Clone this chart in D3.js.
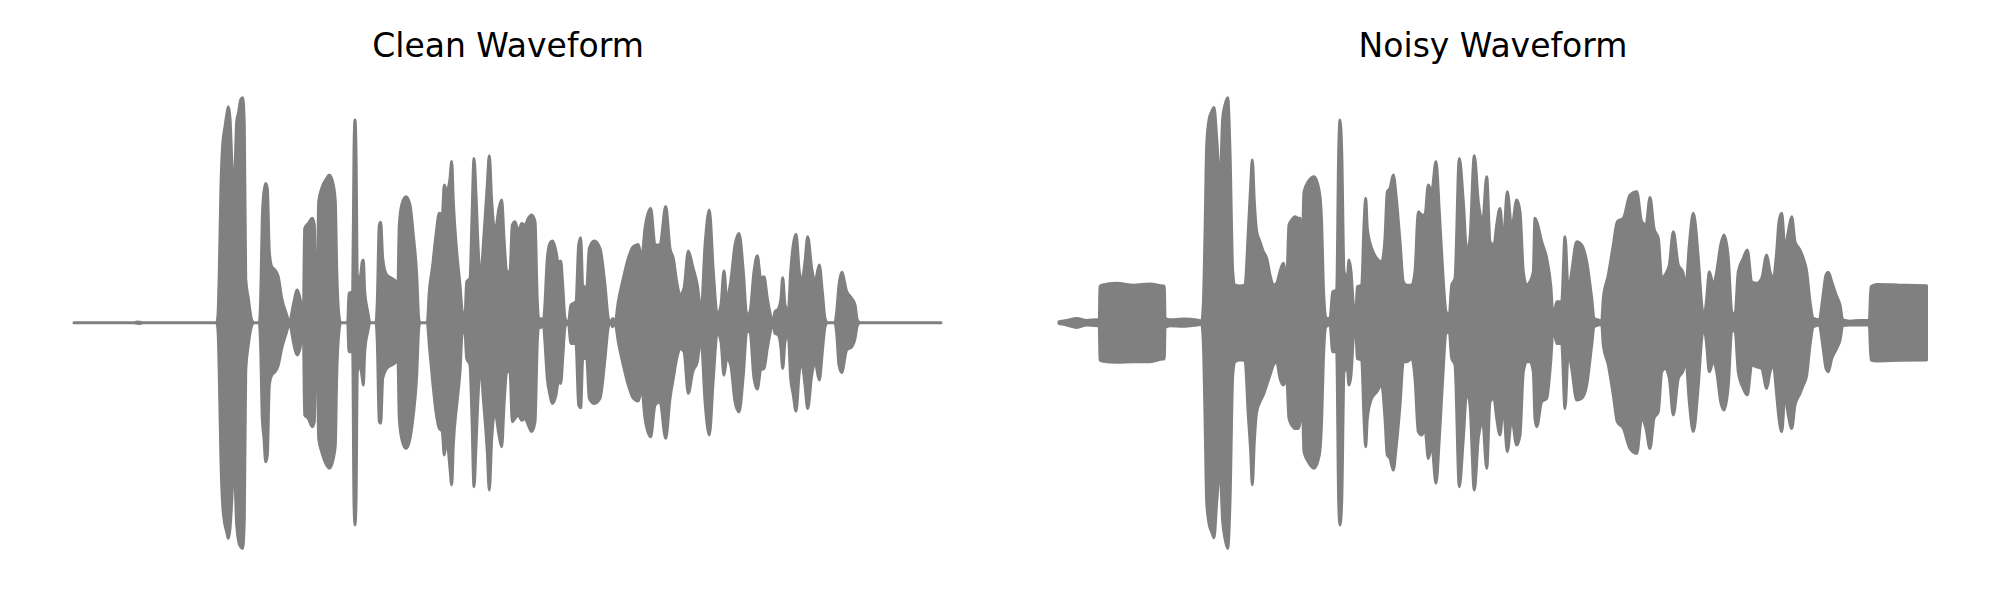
<!DOCTYPE html>
<html>
<head>
<meta charset="utf-8">
<script src="https://cdn.jsdelivr.net/npm/d3@7"></script>
<style>
  html, body { margin: 0; padding: 0; background: #ffffff; }
  svg { display: block; }
</style>
</head>
<body>
<svg id="chart" width="2000" height="600"></svg>
<script>
// ---- DATA ----
const titles = ["Clean Waveform", "Noisy Waveform"];
const timeDomain = [0, 8.68];          // seconds (approx.)
const ampDomain = [-1, 1];             // normalised amplitude

// Envelope of the clean waveform: [time, upper, lower]
const cleanEnvelope = [
[0.00,0,0],[0.60,0,0],[0.63,0.003,-0.002],[0.66,0.002,-0.003],[0.69,0,0],
[1.427,0,0],[1.44,0.034,-0.033],[1.453,0.227,-0.233],[1.47,0.612,-0.618],[1.487,0.790,-0.810],
[1.51,0.871,-0.899],[1.527,0.923,-0.929],[1.543,0.960,-0.959],[1.56,0.908,-0.914],[1.577,0.730,-0.796],
[1.60,0.567,-0.603],[1.627,0.893,-0.899],[1.647,0.938,-0.973],[1.667,0.990,-0.996],[1.687,1.000,-1.003],
[1.703,0.879,-0.870],[1.717,0.197,-0.218],[1.743,0.108,-0.099],[1.777,0.012,-0.013],[1.80,0,0],
[1.853,0,0],[1.867,0.108,-0.114],[1.883,0.464,-0.425],[1.90,0.582,-0.514],[1.917,0.619,-0.618],
[1.933,0.597,-0.588],[1.953,0.316,-0.277],[1.977,0.249,-0.233],[2.01,0.234,-0.218],[2.043,0.204,-0.188],
[2.077,0.108,-0.114],[2.127,0.034,-0.040],[2.153,0,0],[2.167,0.019,-0.018],[2.193,0.079,-0.084],
[2.233,0.145,-0.143],[2.26,0.108,-0.114],[2.293,0.019,-0.025],[2.307,0.419,-0.410],[2.343,0.441,-0.425],
[2.383,0.464,-0.462],[2.403,0.434,-0.440],[2.417,0.108,-0.114],[2.433,0.167,-0.159],[2.447,0.538,-0.514],
[2.477,0.597,-0.573],[2.527,0.641,-0.633],[2.553,0.656,-0.647],[2.593,0.612,-0.603],[2.613,0.538,-0.544],
[2.627,0.241,-0.233],[2.653,0.019,-0.025],[2.667,0,0],[2.737,0,0],[2.75,0.130,-0.129],
[2.787,0.138,-0.129],[2.80,0.760,-0.796],[2.81,0.901,-0.899],[2.82,0.760,-0.796],[2.833,0.212,-0.218],
[2.86,0.197,-0.188],[2.883,0.271,-0.247],[2.893,0.279,-0.277],[2.907,0.138,-0.129],[2.937,0.049,-0.040],
[2.96,0,0],[3.02,0,0],[3.033,0.093,-0.084],[3.053,0.434,-0.440],[3.067,0.446,-0.447],
[3.087,0.286,-0.247],[3.127,0.212,-0.203],[3.177,0.197,-0.188],[3.22,0.182,-0.173],[3.237,0.123,-0.114],
[3.253,0.434,-0.425],[3.277,0.523,-0.514],[3.32,0.560,-0.559],[3.36,0.523,-0.514],[3.393,0.390,-0.410],
[3.427,0.212,-0.233],[3.447,0.019,-0.025],[3.46,0,0],[3.533,0,0],[3.553,0.138,-0.099],
[3.587,0.256,-0.262],[3.62,0.390,-0.396],[3.653,0.486,-0.470],[3.683,0.479,-0.484],[3.703,0.612,-0.588],
[3.727,0.582,-0.514],[3.76,0.641,-0.647],[3.777,0.716,-0.721],[3.793,0.538,-0.544],[3.827,0.316,-0.366],
[3.86,0.167,-0.218],[3.883,0.049,-0.040],[3.91,0.027,-0.047],[3.927,0.182,-0.159],[3.96,0.197,-0.188],
[3.98,0.464,-0.425],[4.00,0.730,-0.729],[4.02,0.567,-0.544],[4.043,0.316,-0.307],[4.067,0.197,-0.188],
[4.093,0.345,-0.336],[4.133,0.612,-0.573],[4.153,0.742,-0.744],[4.177,0.538,-0.514],[4.21,0.404,-0.396],
[4.25,0.508,-0.499],[4.277,0.545,-0.551],[4.30,0.375,-0.366],[4.327,0.227,-0.218],[4.36,0.227,-0.218],
[4.383,0.434,-0.440],[4.41,0.449,-0.425],[4.443,0.404,-0.410],[4.477,0.441,-0.433],[4.51,0.434,-0.425],
[4.543,0.464,-0.455],[4.577,0.479,-0.484],[4.61,0.449,-0.440],[4.633,0.093,-0.084],[4.653,0,0],
[4.67,0.019,-0.022],[4.693,0,0],[4.707,0.064,-0.070],[4.733,0.286,-0.247],[4.76,0.353,-0.321],
[4.783,0.363,-0.359],[4.82,0.316,-0.321],[4.843,0.264,-0.262],[4.867,0.274,-0.270],[4.887,0.167,-0.159],
[4.91,0.019,-0.018],[4.943,0,0],[4.97,0.079,-0.092],[5.02,0.093,-0.092],[5.047,0.345,-0.366],
[5.067,0.378,-0.378],[5.087,0.167,-0.159],[5.127,0.153,-0.159],[5.153,0.330,-0.336],[5.203,0.363,-0.359],
[5.26,0.330,-0.336],[5.31,0.167,-0.159],[5.343,0.019,-0.018],[5.367,0,0],[5.387,0.019,-0.018],
[5.41,0,0],[5.443,0.093,-0.084],[5.493,0.197,-0.188],[5.543,0.286,-0.277],[5.593,0.338,-0.336],
[5.643,0.348,-0.348],[5.677,0.286,-0.292],[5.71,0.419,-0.425],[5.767,0.508,-0.507],[5.81,0.345,-0.366],
[5.86,0.345,-0.351],[5.917,0.516,-0.514],[5.96,0.330,-0.336],[5.993,0.286,-0.247],[6.027,0.182,-0.159],
[6.06,0.123,-0.114],[6.10,0.153,-0.129],[6.143,0.319,-0.314],[6.187,0.249,-0.218],[6.233,0.167,-0.173],
[6.27,0.049,-0.070],[6.313,0.360,-0.366],[6.353,0.501,-0.499],[6.393,0.227,-0.247],[6.433,0.034,-0.040],
[6.47,0.079,-0.084],[6.50,0.230,-0.233],[6.527,0.108,-0.159],[6.567,0.182,-0.188],[6.61,0.345,-0.351],
[6.65,0.397,-0.396],[6.693,0.227,-0.233],[6.727,0.034,-0.040],[6.76,0.049,-0.040],[6.80,0.227,-0.247],
[6.833,0.298,-0.295],[6.867,0.197,-0.210],[6.90,0.204,-0.203],[6.933,0.108,-0.114],[6.977,0.012,-0.013],
[6.987,0,0],[7.01,0.049,-0.047],[7.043,0.061,-0.055],[7.07,0.108,-0.114],[7.087,0.200,-0.203],
[7.11,0.079,-0.084],[7.143,0.049,-0.055],[7.167,0.227,-0.247],[7.193,0.345,-0.321],[7.22,0.393,-0.393],
[7.253,0.227,-0.218],[7.277,0.182,-0.173],[7.31,0.271,-0.277],[7.337,0.382,-0.381],[7.377,0.241,-0.233],
[7.41,0.182,-0.173],[7.453,0.256,-0.255],[7.483,0.138,-0.129],[7.51,0.019,-0.018],[7.533,0,0],
[7.61,0,0],[7.627,0.049,-0.047],[7.65,0.167,-0.188],[7.677,0.224,-0.221],[7.727,0.138,-0.121],
[7.777,0.108,-0.107],[7.81,0.079,-0.070],[7.833,0.012,-0.013],[7.86,0,0],[8.67,0,0]
];

// Envelope of the noisy waveform: [time, upper, lower]
const noisyEnvelope = [
[0.00,0.004,-0.004],[0.077,0.010,-0.010],[0.177,0.019,-0.021],[0.277,0.010,-0.010],[0.377,0.013,-0.013],
[0.403,0.013,-0.013],[0.41,0.160,-0.166],[0.427,0.167,-0.170],[0.577,0.175,-0.176],[0.743,0.167,-0.173],
[0.91,0.172,-0.173],[1.043,0.163,-0.161],[1.053,0.163,-0.161],[1.06,0.019,-0.022],[1.11,0.013,-0.013],
[1.243,0.016,-0.016],[1.377,0.012,-0.010],[1.427,0.007,-0.007],[1.443,0.079,-0.084],[1.46,0.390,-0.410],
[1.477,0.790,-0.796],[1.503,0.908,-0.899],[1.527,0.938,-0.929],[1.55,0.956,-0.956],[1.577,0.819,-0.796],
[1.61,0.612,-0.647],[1.637,0.908,-0.884],[1.66,0.967,-0.959],[1.687,1.000,-1.003],[1.71,0.760,-0.796],
[1.737,0.227,-0.233],[1.76,0.167,-0.173],[1.81,0.163,-0.166],[1.86,0.167,-0.167],[1.893,0.404,-0.410],
[1.917,0.612,-0.573],[1.933,0.723,-0.721],[1.953,0.538,-0.529],[1.977,0.404,-0.396],[2.01,0.360,-0.351],
[2.043,0.316,-0.321],[2.077,0.286,-0.277],[2.11,0.212,-0.233],[2.143,0.167,-0.188],[2.177,0.175,-0.173],
[2.21,0.227,-0.247],[2.243,0.264,-0.277],[2.277,0.182,-0.247],[2.30,0.434,-0.425],[2.327,0.456,-0.455],
[2.36,0.471,-0.470],[2.393,0.464,-0.470],[2.41,0.464,-0.440],[2.427,0.227,-0.233],[2.45,0.582,-0.573],
[2.493,0.627,-0.618],[2.55,0.649,-0.647],[2.603,0.582,-0.588],[2.627,0.434,-0.425],[2.643,0.167,-0.173],
[2.67,0.019,-0.018],[2.71,0.019,-0.010],[2.737,0.138,-0.129],[2.777,0.145,-0.129],[2.797,0.760,-0.796],
[2.81,0.901,-0.899],[2.827,0.760,-0.796],[2.85,0.227,-0.218],[2.883,0.197,-0.203],[2.90,0.279,-0.277],
[2.92,0.227,-0.233],[2.943,0.079,-0.070],[2.967,0.019,-0.018],[2.983,0.160,-0.159],[3.027,0.167,-0.166],
[3.05,0.434,-0.425],[3.067,0.553,-0.551],[3.083,0.419,-0.425],[3.127,0.330,-0.336],[3.177,0.286,-0.307],
[3.227,0.271,-0.277],[3.26,0.375,-0.425],[3.283,0.582,-0.588],[3.31,0.597,-0.603],[3.343,0.656,-0.655],
[3.37,0.567,-0.559],[3.41,0.360,-0.366],[3.443,0.182,-0.173],[3.477,0.167,-0.173],[3.527,0.167,-0.159],
[3.56,0.227,-0.247],[3.593,0.493,-0.484],[3.627,0.479,-0.499],[3.66,0.479,-0.470],[3.693,0.612,-0.603],
[3.727,0.582,-0.544],[3.77,0.716,-0.714],[3.803,0.493,-0.514],[3.837,0.227,-0.247],[3.87,0.049,-0.047],
[3.903,0.034,-0.040],[3.927,0.167,-0.159],[3.96,0.197,-0.188],[4.003,0.730,-0.729],[4.043,0.538,-0.514],
[4.077,0.316,-0.307],[4.11,0.375,-0.366],[4.153,0.742,-0.744],[4.193,0.538,-0.514],[4.237,0.449,-0.440],
[4.277,0.649,-0.647],[4.31,0.360,-0.351],[4.35,0.345,-0.336],[4.377,0.434,-0.425],[4.41,0.508,-0.499],
[4.443,0.360,-0.366],[4.483,0.582,-0.573],[4.527,0.419,-0.425],[4.577,0.545,-0.544],[4.61,0.493,-0.499],
[4.643,0.227,-0.218],[4.677,0.167,-0.173],[4.71,0.182,-0.173],[4.743,0.227,-0.218],[4.76,0.464,-0.425],
[4.777,0.449,-0.462],[4.827,0.360,-0.351],[4.877,0.286,-0.336],[4.917,0.167,-0.173],[4.943,0.019,-0.018],
[4.977,0.093,-0.092],[5.027,0.093,-0.092],[5.06,0.382,-0.381],[5.093,0.138,-0.129],[5.127,0.227,-0.203],
[5.177,0.360,-0.344],[5.227,0.345,-0.336],[5.277,0.271,-0.277],[5.327,0.108,-0.099],[5.35,0.019,-0.018],
[5.393,0.012,-0.010],[5.427,0.007,-0.007],[5.443,0.108,-0.099],[5.493,0.212,-0.188],[5.543,0.345,-0.321],
[5.583,0.449,-0.440],[5.643,0.464,-0.470],[5.71,0.567,-0.559],[5.777,0.582,-0.581],[5.827,0.449,-0.425],
[5.87,0.434,-0.470],[5.91,0.556,-0.559],[5.95,0.419,-0.425],[5.993,0.375,-0.396],[6.027,0.197,-0.218],
[6.06,0.212,-0.203],[6.103,0.256,-0.247],[6.143,0.404,-0.410],[6.193,0.256,-0.247],[6.237,0.227,-0.218],
[6.27,0.167,-0.173],[6.303,0.345,-0.351],[6.343,0.486,-0.484],[6.393,0.286,-0.277],[6.427,0.079,-0.070],
[6.45,0.019,-0.018],[6.477,0.108,-0.099],[6.503,0.227,-0.218],[6.543,0.167,-0.173],[6.577,0.227,-0.218],
[6.617,0.345,-0.351],[6.65,0.390,-0.388],[6.693,0.286,-0.277],[6.727,0.049,-0.040],[6.76,0.034,-0.033],
[6.793,0.227,-0.218],[6.843,0.286,-0.292],[6.883,0.323,-0.321],[6.927,0.182,-0.188],[6.977,0.175,-0.196],
[7.027,0.197,-0.203],[7.077,0.301,-0.292],[7.11,0.227,-0.218],[7.143,0.197,-0.188],[7.177,0.316,-0.321],
[7.20,0.449,-0.425],[7.227,0.486,-0.484],[7.26,0.330,-0.321],[7.293,0.404,-0.410],[7.327,0.471,-0.470],
[7.36,0.360,-0.366],[7.41,0.323,-0.314],[7.443,0.286,-0.277],[7.477,0.227,-0.233],[7.51,0.093,-0.099],
[7.543,0.019,-0.018],[7.603,0.012,-0.010],[7.637,0.108,-0.099],[7.67,0.212,-0.203],[7.693,0.224,-0.218],
[7.727,0.182,-0.159],[7.777,0.116,-0.114],[7.81,0.079,-0.077],[7.837,0.012,-0.013],[7.91,0.007,-0.010],
[8.01,0.010,-0.010],[8.103,0.010,-0.010],[8.12,0.160,-0.166],[8.177,0.170,-0.170],[8.41,0.167,-0.167],
[8.675,0.164,-0.166]
];

// ---- DRAWING ----
const svg = d3.select("#chart");
svg.append("rect").attr("width", 2000).attr("height", 600).attr("fill", "#ffffff");

const panels = [
  { title: titles[0], data: cleanEnvelope, xRange: [74, 942] },
  { title: titles[1], data: noisyEnvelope, xRange: [1059, 1927] }
];

const y = d3.scaleLinear().domain(ampDomain).range([547.7, 97.7]);

panels.forEach(p => {
  const x = d3.scaleLinear().domain(timeDomain).range(p.xRange);
  const g = svg.append("g");
  const area = d3.area()
    .x(d => x(d[0]))
    .y0(d => y(d[2]))
    .y1(d => y(d[1]))
    .curve(d3.curveMonotoneX);
  g.append("path")
    .datum(p.data)
    .attr("d", area)
    .attr("fill", "#808080")
    .attr("stroke", "#808080")
    .attr("stroke-width", 3)
    .attr("stroke-linejoin", "round")
    .attr("stroke-linecap", "round");

  g.append("text")
    .attr("x", (p.xRange[0] + p.xRange[1]) / 2)
    .attr("y", 57)
    .attr("text-anchor", "middle")
    .attr("font-family", "DejaVu Sans")
    .attr("font-size", 33)
    .attr("fill", "#000000")
    .text(p.title);
});
</script>
</body>
</html>
